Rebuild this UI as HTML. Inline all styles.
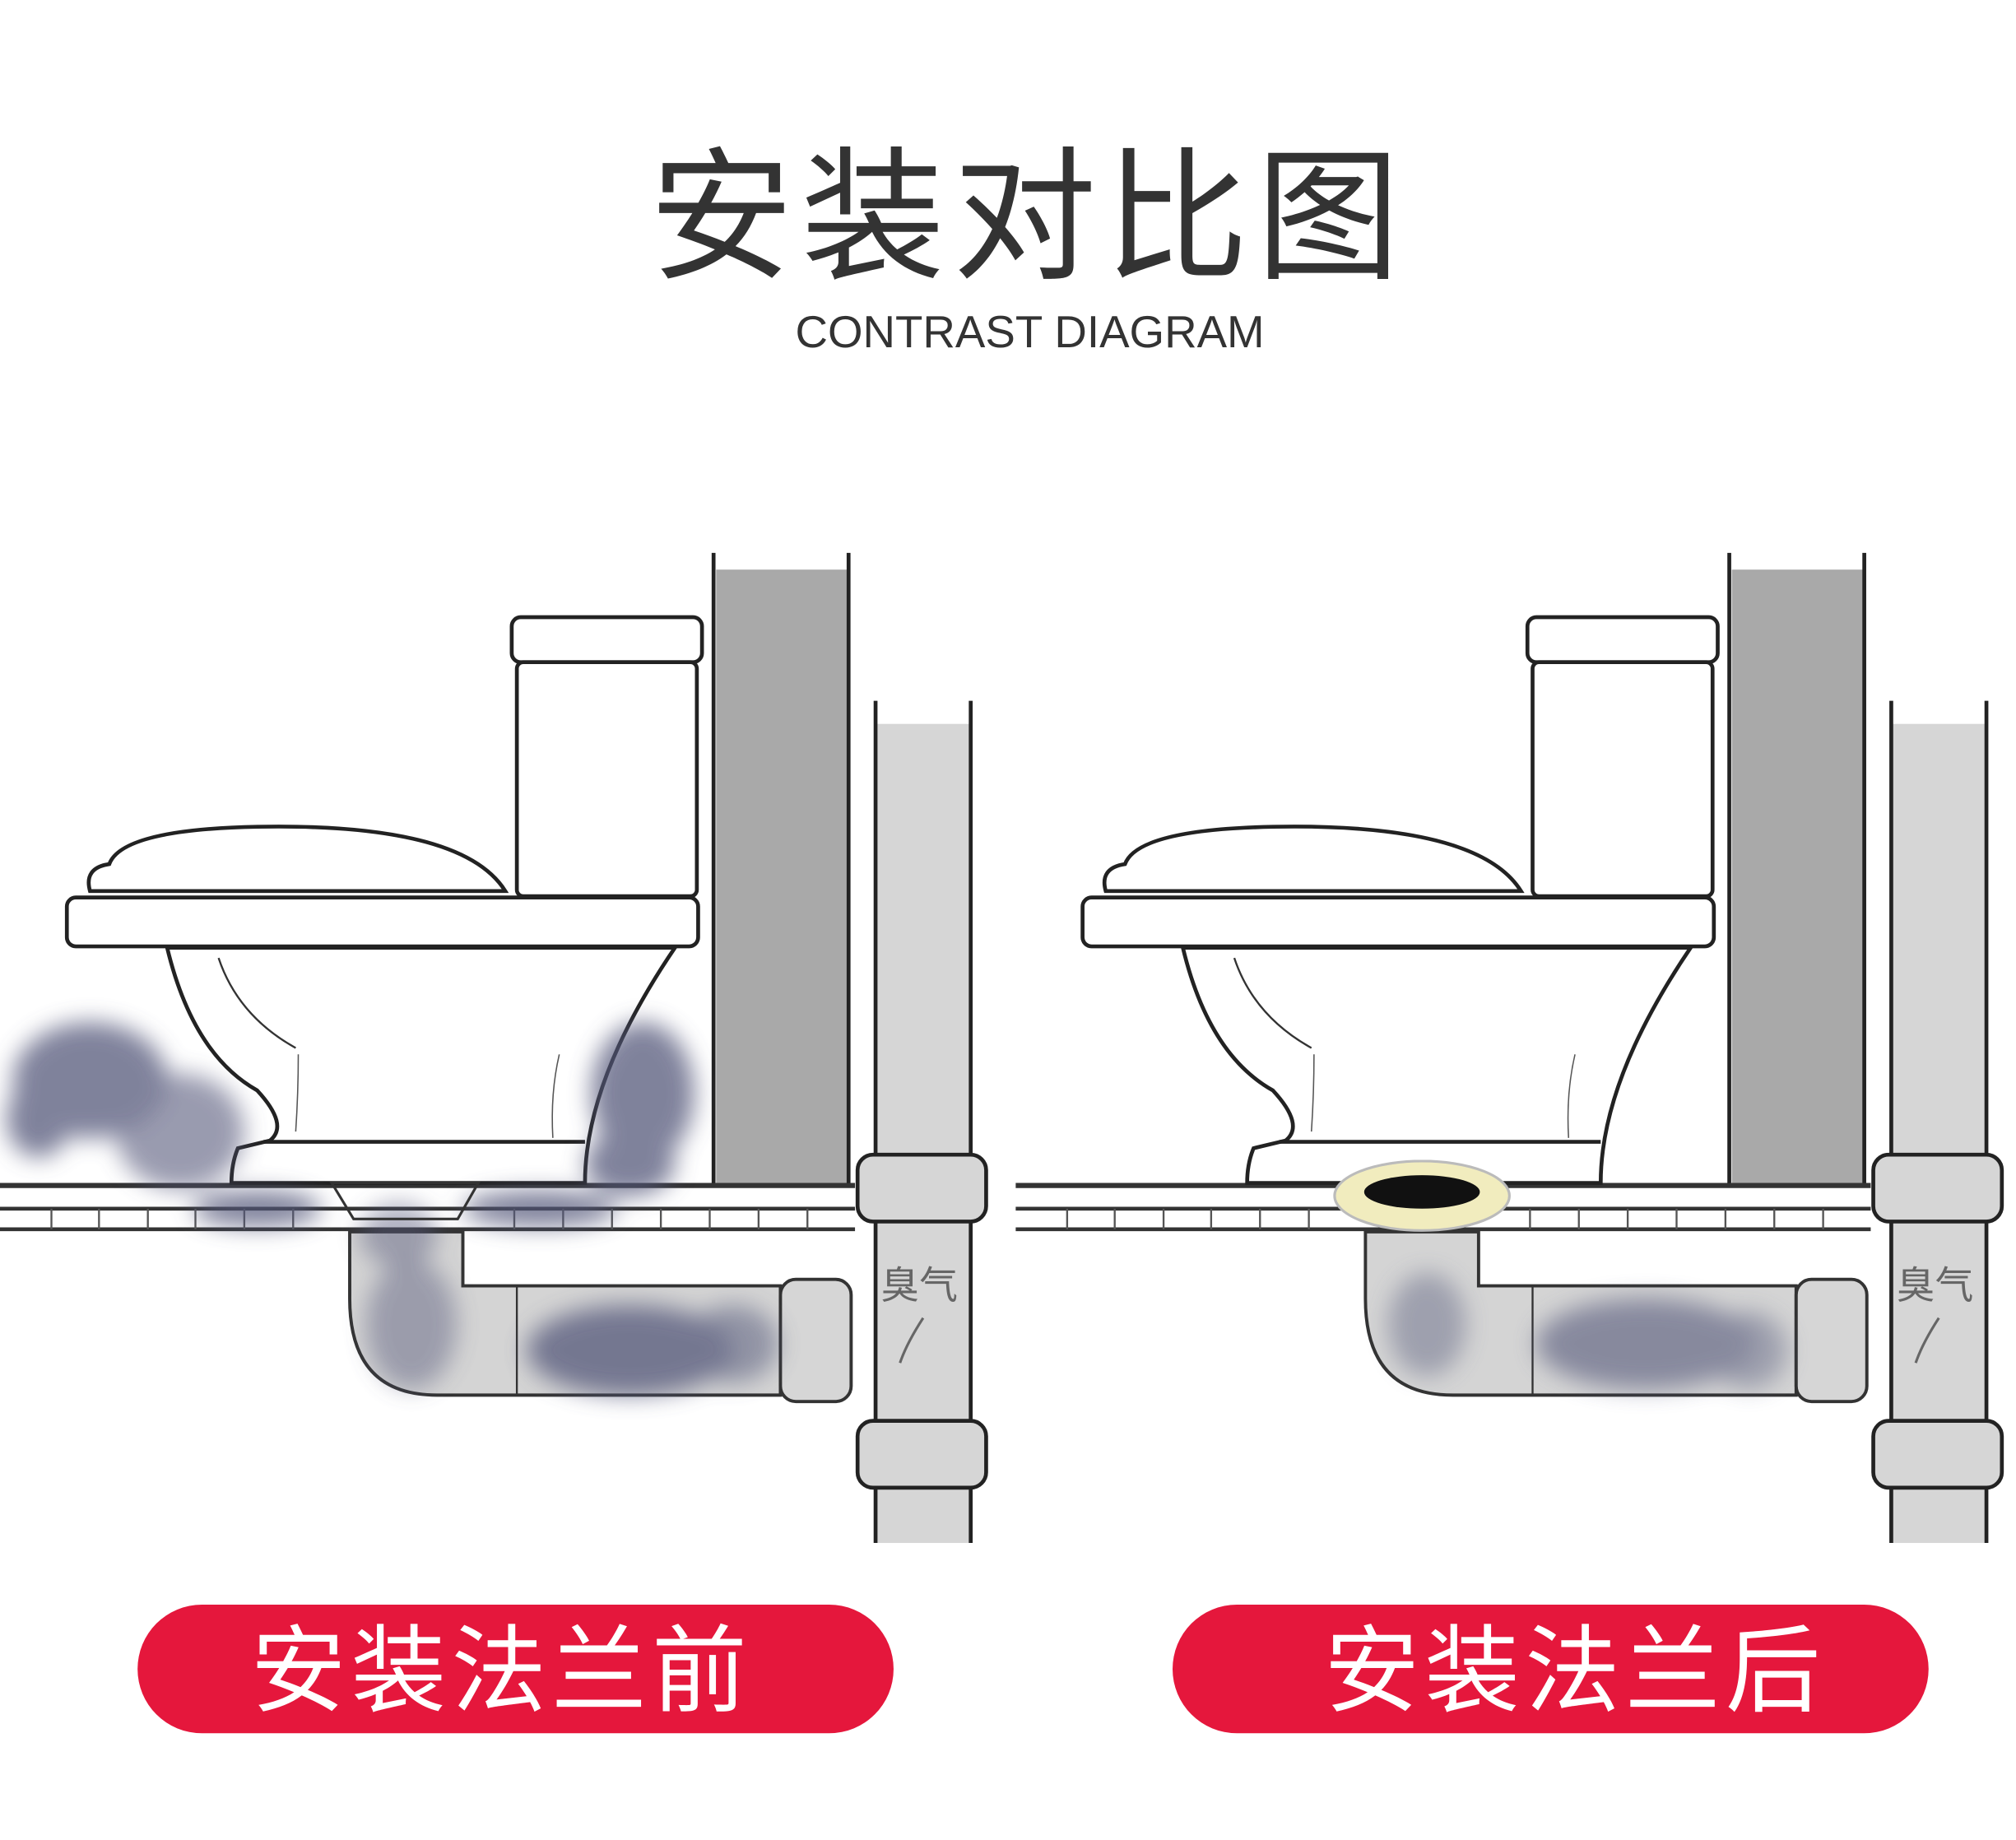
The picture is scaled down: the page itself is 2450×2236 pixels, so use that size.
<!DOCTYPE html>
<html><head><meta charset="utf-8"><style>
html,body{margin:0;padding:0;background:#fff;}
svg{display:block}
</style></head><body>
<svg width="2450" height="2236" viewBox="0 0 1568 1431" preserveAspectRatio="none" xmlns="http://www.w3.org/2000/svg">
<defs>
<filter id="blur" x="-50%" y="-50%" width="200%" height="200%"><feGaussianBlur stdDeviation="9"/></filter>
<filter id="blur2" x="-50%" y="-50%" width="200%" height="200%"><feGaussianBlur stdDeviation="4"/></filter>
<g id="scene">
  <!-- wall -->
  <rect x="557" y="443" width="102" height="477" fill="#a9a9a9"/>
  <line x1="555" y1="430" x2="555" y2="920" stroke="#222" stroke-width="3"/>
  <line x1="660" y1="430" x2="660" y2="920" stroke="#222" stroke-width="3"/>
  <!-- vertical pipe -->
  <rect x="682" y="563" width="72" height="637" fill="#d6d6d6"/>
  <line x1="681" y1="545" x2="681" y2="1200" stroke="#222" stroke-width="3"/>
  <line x1="755" y1="545" x2="755" y2="1200" stroke="#222" stroke-width="3"/>
  <rect x="667" y="898" width="100" height="52" rx="12" fill="#d6d6d6" stroke="#222" stroke-width="3"/>
  <rect x="667" y="1105" width="100" height="52" rx="12" fill="#d6d6d6" stroke="#222" stroke-width="3"/>
  <!-- floor -->
  <line x1="0" y1="922" x2="665" y2="922" stroke="#333" stroke-width="4"/>
  <line x1="0" y1="940" x2="665" y2="940" stroke="#333" stroke-width="3"/>
  <line x1="0" y1="956" x2="665" y2="956" stroke="#333" stroke-width="3"/>
  <g stroke="#555" stroke-width="1.5">
    <line x1="40" y1="940" x2="40" y2="956"/><line x1="77" y1="940" x2="77" y2="956"/><line x1="115" y1="940" x2="115" y2="956"/>
    <line x1="152" y1="940" x2="152" y2="956"/><line x1="190" y1="940" x2="190" y2="956"/><line x1="228" y1="940" x2="228" y2="956"/>
    <line x1="400" y1="940" x2="400" y2="956"/><line x1="438" y1="940" x2="438" y2="956"/><line x1="476" y1="940" x2="476" y2="956"/>
    <line x1="514" y1="940" x2="514" y2="956"/><line x1="552" y1="940" x2="552" y2="956"/><line x1="590" y1="940" x2="590" y2="956"/>
    <line x1="628" y1="940" x2="628" y2="956"/>
  </g>
  <!-- drain pipe -->
  <path d="M272 958 L272 1010 Q272 1085 340 1085 L607 1085 L607 1000 L360 1000 L360 958 Z" fill="#d4d4d4" stroke="#333" stroke-width="2.5"/>
  <rect x="607" y="995" width="55" height="95" rx="12" fill="#d6d6d6" stroke="#333" stroke-width="2.5"/>
  <line x1="402" y1="1000" x2="402" y2="1085" stroke="#333" stroke-width="1.5"/>
  <!-- tank -->
  <rect x="398" y="480" width="148" height="35" rx="7" fill="#fff" stroke="#222" stroke-width="3"/>
  <rect x="402" y="515" width="140" height="182" rx="5" fill="#fff" stroke="#222" stroke-width="3"/>
  <!-- lid -->
  <path d="M70 693 Q65 675 85 672 Q95 645 200 643 Q360 640 393 693 Z" fill="#fff" stroke="#222" stroke-width="3"/>
  <!-- bowl -->
  <path d="M130 737 Q150 820 200 848 Q225 875 210 887 L185 893 Q180 905 180 920 L455 920 Q455 840 525 737 Z" fill="#fff" stroke="#222" stroke-width="3"/>
  <line x1="205" y1="888" x2="455" y2="888" stroke="#222" stroke-width="3"/>
  <path d="M170 745 Q185 790 230 815" fill="none" stroke="#333" stroke-width="1.5"/>
  <path d="M232 820 Q232 850 230 880" fill="none" stroke="#555" stroke-width="1"/>
  <path d="M435 820 Q428 850 430 885" fill="none" stroke="#555" stroke-width="1"/>
  <!-- seat -->
  <rect x="52" y="698" width="491" height="38" rx="7" fill="#fff" stroke="#222" stroke-width="3"/>
  <!-- label -->
  <text x="685" y="1010" font-family="Liberation Sans, Noto Sans CJK SC, sans-serif" font-size="30" fill="#666">臭气</text>
  <path d="M718 1025 Q705 1045 700 1060" stroke="#666" stroke-width="2" fill="none"/>
</g>
</defs>

<text x="800" y="208" text-anchor="middle" font-family="Liberation Sans, Noto Sans CJK SC, sans-serif" font-size="112" fill="#333" letter-spacing="6">安装对比图</text>
<text x="801" y="270" text-anchor="middle" font-family="Liberation Sans, sans-serif" font-size="35" fill="#333">CONTRAST DIAGRAM</text>

<use href="#scene"/>
<use href="#scene" transform="translate(790,0)"/>

<!-- smoke left -->
<g filter="url(#blur)" fill="#55597a" opacity="0.75">
  <ellipse cx="70" cy="840" rx="60" ry="45"/>
  <ellipse cx="140" cy="880" rx="50" ry="45" opacity="0.8"/>
  <ellipse cx="30" cy="870" rx="25" ry="30"/>
  <ellipse cx="500" cy="850" rx="40" ry="55"/>
  <ellipse cx="490" cy="905" rx="35" ry="25"/>
  <ellipse cx="200" cy="940" rx="50" ry="14"/>
  <ellipse cx="420" cy="940" rx="60" ry="14"/>
  <ellipse cx="310" cy="960" rx="30" ry="25" opacity="0.6"/>
  <ellipse cx="320" cy="1030" rx="35" ry="50" opacity="0.6"/>
  <ellipse cx="490" cy="1050" rx="80" ry="35"/>
  <ellipse cx="570" cy="1045" rx="35" ry="30" opacity="0.7"/>
</g>
<!-- funnel -->
<path d="M258 920 L372 920 L356 948 L275 948 Z" fill="none" stroke="#333" stroke-width="2"/>

<!-- smoke right pipe -->
<g filter="url(#blur)" fill="#55597a" opacity="0.6">
  <ellipse cx="1110" cy="1030" rx="30" ry="40" opacity="0.7"/>
  <ellipse cx="1280" cy="1045" rx="85" ry="35"/>
  <ellipse cx="1360" cy="1050" rx="30" ry="30" opacity="0.7"/>
</g>
<!-- flange -->
<ellipse cx="1106" cy="930" rx="68" ry="27" fill="#f1ecbe" stroke="#bbb" stroke-width="2"/>
<ellipse cx="1106" cy="927" rx="45" ry="13" fill="#111"/>

<!-- pills -->
<rect x="107" y="1248" width="588" height="100" rx="50" fill="#e5173c"/>
<text x="390" y="1325" text-anchor="middle" font-family="Liberation Sans, Noto Sans CJK SC, sans-serif" font-size="74" fill="#fff" letter-spacing="4">安装法兰前</text>
<rect x="912" y="1248" width="588" height="100" rx="50" fill="#e5173c"/>
<text x="1225" y="1325" text-anchor="middle" font-family="Liberation Sans, Noto Sans CJK SC, sans-serif" font-size="74" fill="#fff" letter-spacing="4">安装法兰后</text>
</svg>
</body></html>
